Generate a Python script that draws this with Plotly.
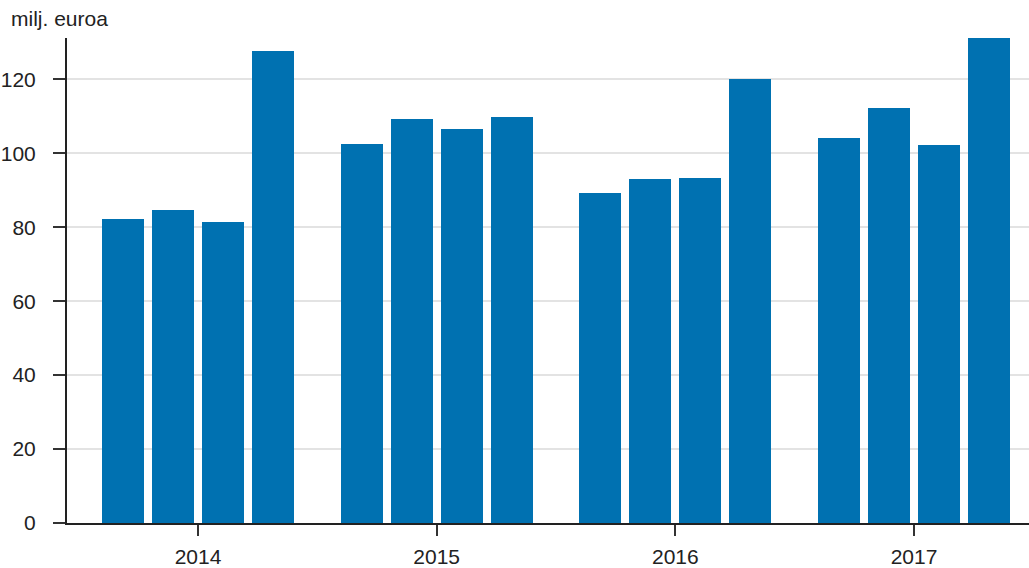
import plotly.graph_objects as go

years = ["2014", "2015", "2016", "2017"]
quarters = [1, 2, 3, 4]
values = [
    [82.2, 84.7, 81.5, 127.7],
    [102.5, 109.2, 106.6, 109.9],
    [89.4, 93.1, 93.4, 120.2],
    [104.1, 112.3, 102.2, 131.1],
]
y_ticks = [0, 20, 40, 60, 80, 100, 120]

group_pitch = 4.774
x_pos, y_val = [], []
for gi, yr in enumerate(years):
    for qi, q in enumerate(quarters):
        x_pos.append(gi * group_pitch + (qi - 1.5))
        y_val.append(values[gi][qi])
centers = [gi * group_pitch for gi in range(len(years))]

fig = go.Figure(go.Bar(
    x=x_pos, y=y_val, width=0.84,
    marker=dict(color="#0071B1", line=dict(width=0)),
    hoverinfo="y",
))

fig.update_layout(
    width=1029, height=568,
    margin=dict(l=67, r=0, t=38, b=45, autoexpand=False),
    plot_bgcolor="white", paper_bgcolor="white",
    font=dict(family="Liberation Sans, Arial, sans-serif", size=21, color="#222"),
    showlegend=False,
    bargap=0,
    annotations=[dict(text="milj. euroa", xref="paper", yref="paper",
                      x=-67 / 962, y=1.0, xanchor="left", yanchor="bottom",
                      xshift=9, yshift=6, showarrow=False,
                      font=dict(size=21, color="#222"))],
)

fig.update_xaxes(
    range=[-2.62, centers[-1] + 2.3],
    tickvals=centers, ticktext=years,
    ticks="outside", ticklen=11, tickcolor="#333", tickwidth=1.5,
    ticklabelstandoff=3,
    showline=True, linecolor="#222", linewidth=2,
    showgrid=False, zeroline=False, fixedrange=True, automargin=False,
)
fig.update_yaxes(
    range=[0, 131.2],
    tickvals=y_ticks,
    ticks="outside", ticklen=12, tickcolor="#333", tickwidth=1.5,
    ticklabelstandoff=13,
    showline=True, linecolor="#222", linewidth=2,
    showgrid=True, gridcolor="#e3e3e3", gridwidth=1.5,
    zeroline=False, fixedrange=True, automargin=False,
)

fig.write_html("out.html", config={"displayModeBar": False},
               post_script="document.body.style.margin='0';document.body.style.overflow='hidden';")
